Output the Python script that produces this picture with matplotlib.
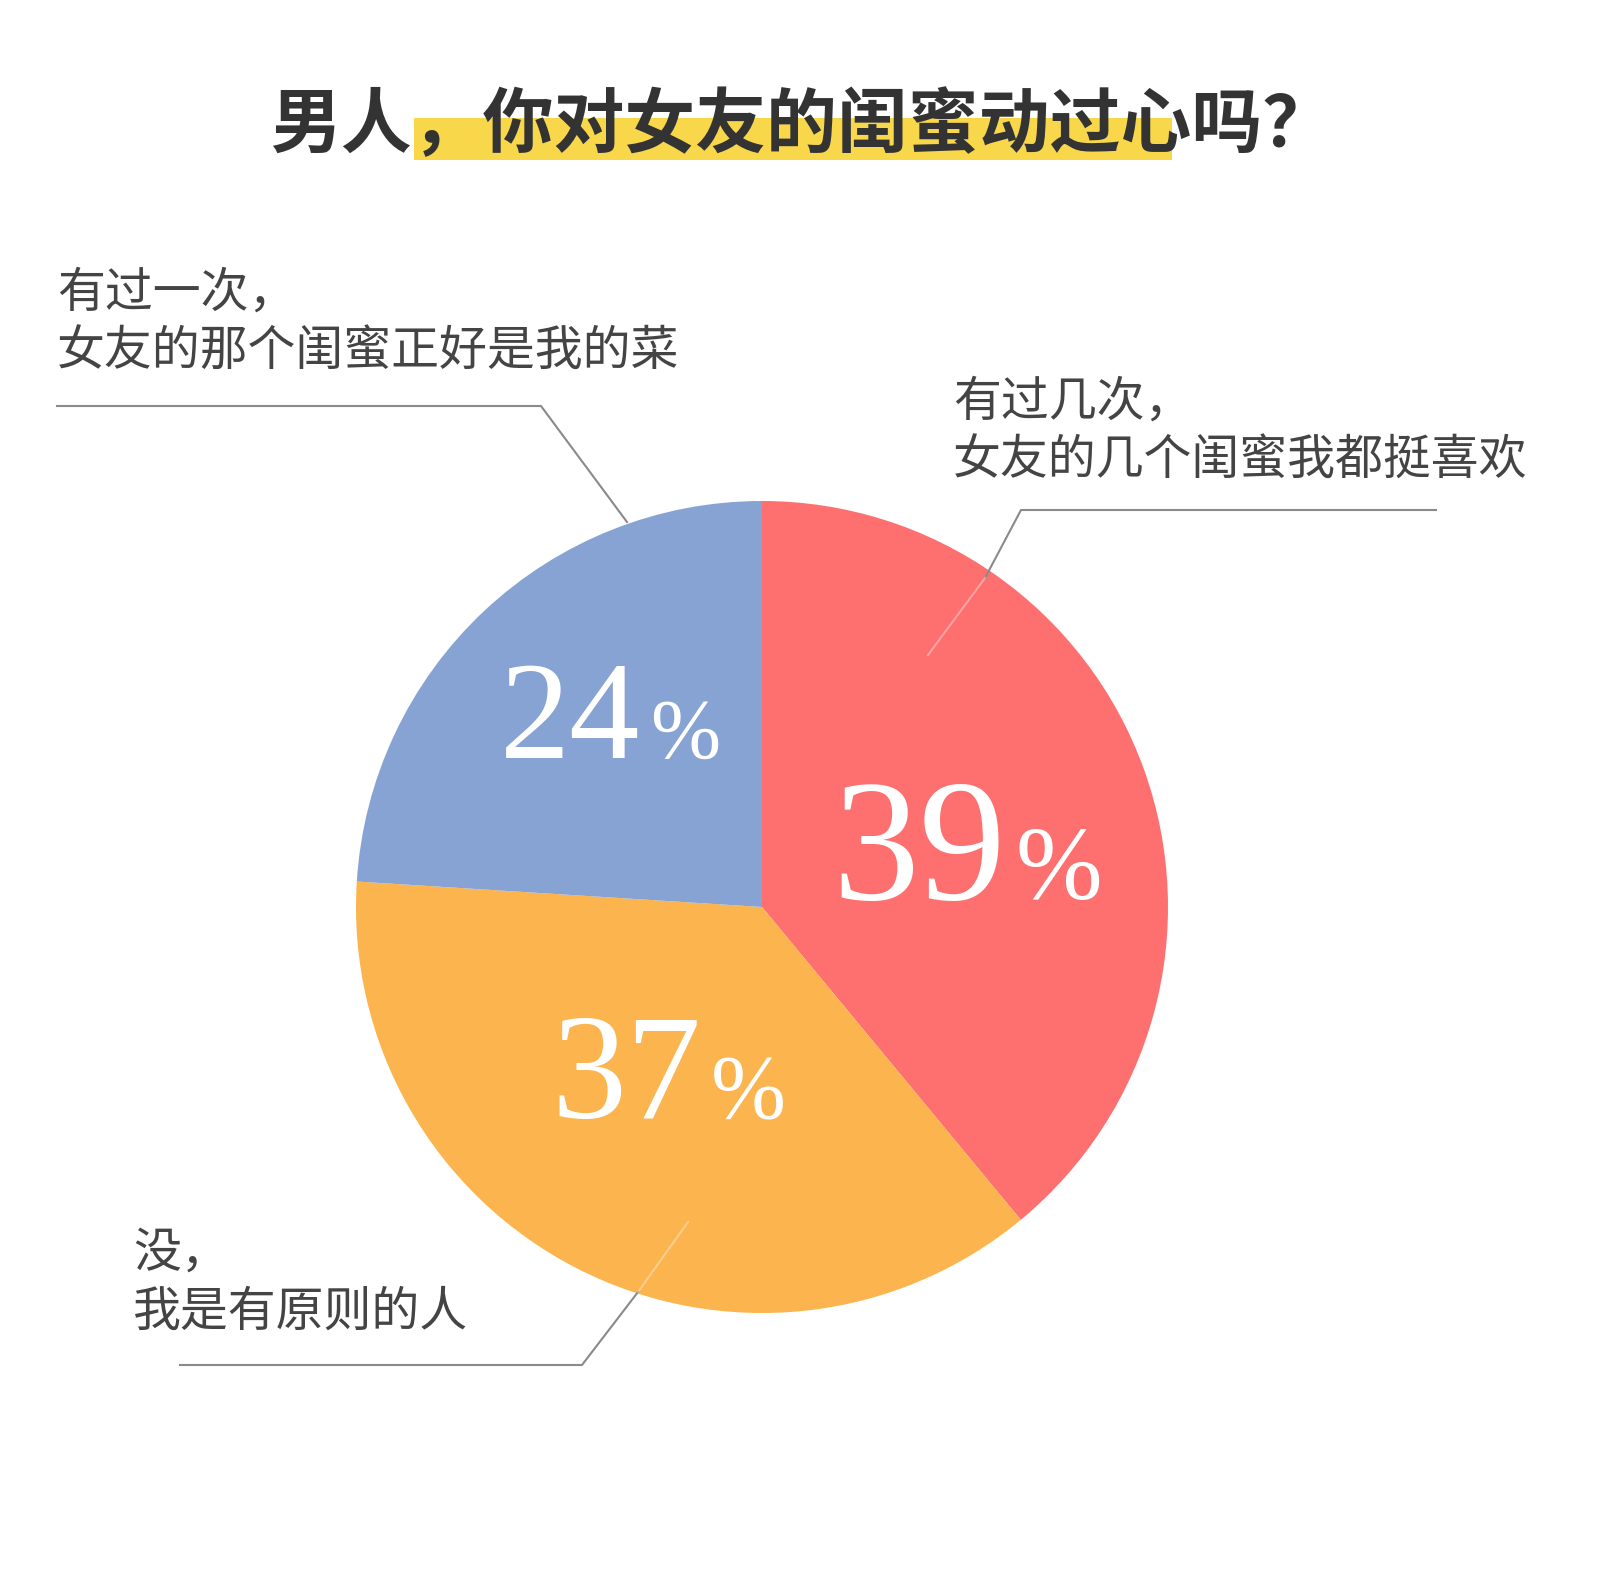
import matplotlib
matplotlib.use("Agg")
import numpy as np
import matplotlib.pyplot as plt
from matplotlib.patches import Rectangle

plt.rcParams['font.family'] = ['Noto Sans CJK SC', 'DejaVu Sans']

# data
title = "男人，你对女友的闺蜜动过心吗？"
answers = [
    "有过几次，\n女友的几个闺蜜我都挺喜欢",
    "没，\n我是有原则的人",
    "有过一次，\n女友的那个闺蜜正好是我的菜",
]
shares = [39, 37, 24]
colors = ["#FE6F6F", "#FBB44E", "#87A3D3"]

W, H = 1599, 1578
fig = plt.figure(figsize=(W / 100, H / 100), dpi=100)
ax = fig.add_axes([0, 0, 1, 1])

cx, cy, R = 762, 907, 406
# y axis is inverted (pixel coords), so visual clockwise from top = data ccw from -90
wedges, _ = ax.pie(shares, colors=colors, startangle=-90, counterclock=True,
                   center=(cx, cy), radius=R, frame=True,
                   wedgeprops=dict(linewidth=0))
ax.set_xlim(0, W)
ax.set_ylim(H, 0)
ax.set_aspect("equal")
ax.axis("off")

# percentage labels
label_r = [0.53, 0.46, 0.61]
label_dang = [2.0, 3.0, 5.4]
num_size = [125, 108, 101]
serif = "Liberation Serif"
for w, v, rf, da, fs in zip(wedges, shares, label_r, label_dang, num_size):
    mid = np.deg2rad((w.theta1 + w.theta2) / 2 + da)
    lx = cx + rf * R * np.cos(mid)
    ly = cy + rf * R * np.sin(mid)
    ps = fs * 0.6
    num_w = 2 * 0.5 * fs * 100 / 72
    pct_w = 0.83 * ps * 100 / 72
    gap = 10
    left = lx - (num_w + gap + pct_w) / 2
    base = ly + 0.33 * fs * 100 / 72
    ax.text(left + num_w, base, f"{v}", family=serif, fontsize=fs, color="white",
            ha="right", va="baseline")
    ax.text(left + num_w + gap, base, "%", family=serif, fontsize=ps, color="white",
            ha="left", va="baseline")

# title with yellow highlight
ax.add_patch(Rectangle((414, 118), 758, 42, facecolor="#F8D74B", edgecolor="none", zorder=0))
ax.text(802, 126, title, fontsize=51, fontweight="bold", color="#333333",
        ha="center", va="center", zorder=2)

# callout labels
lbl_color = "#444444"
ax.text(57, 322, answers[2], fontsize=34.5, color=lbl_color, ha="left", va="center",
        linespacing=1.25)
ax.text(953, 431, answers[0], fontsize=34.5, color=lbl_color, ha="left", va="center",
        linespacing=1.25)
ax.text(133, 1282, answers[1], fontsize=34.5, color=lbl_color, ha="left", va="center",
        linespacing=1.25)

# leader lines
gray = "#8A8A8A"
ax.plot([57, 541, 627], [406, 406, 522], color=gray, lw=1.5, zorder=1)
ax.plot([1436, 1021, 985], [510, 510, 578], color=gray, lw=1.5, zorder=3)
ax.plot([985, 928], [578, 655], color="white", lw=1.5, alpha=0.35, zorder=3)
ax.plot([180, 582, 638], [1365, 1365, 1292], color=gray, lw=1.5, zorder=3)
ax.plot([638, 688], [1292, 1222], color="white", lw=1.5, alpha=0.35, zorder=3)

fig.savefig("out.png", dpi=100, facecolor="white")
